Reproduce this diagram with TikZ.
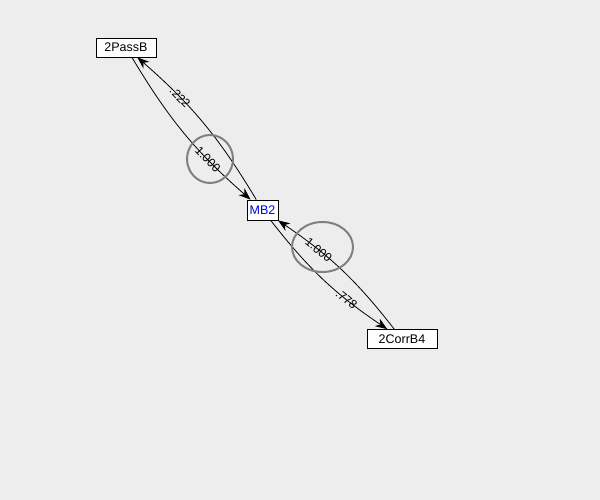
\documentclass[tikz,border=0pt]{standalone}
\usepackage{fontspec}
\setmainfont{Liberation Sans}
\usetikzlibrary{arrows.meta}
\definecolor{bggrey}{RGB}{237,237,237}
\definecolor{ringgrey}{RGB}{128,128,128}
\definecolor{mbblue}{RGB}{0,0,230}

\begin{document}
\begin{tikzpicture}[x=1pt,y=1pt,>={Stealth[length=12pt,width=9pt]},
  box/.style={draw,fill=white,line width=0.8pt,inner sep=0pt,minimum height=19pt,font=\fontsize{12.5}{14}\selectfont},
  wt/.style={sloped,pos=0.7,inner sep=0pt,font=\fontsize{12}{14}\selectfont},
  ring/.style={draw=ringgrey,line width=2pt}]
\fill[bggrey] (0,0) rectangle (600,500);
\useasboundingbox (0,0) rectangle (600,500);
% boxes
\node[box,minimum width=60pt] (pass) at (126,452.5) {2PassB};
\node[box,minimum width=31pt,minimum height=20pt,text=mbblue] (mb) at (262.5,290) {MB2};
\node[box,minimum width=70pt] (corr) at (402,161) {2CorrB4};
% flows
\draw[->,line width=0.8pt] (pass) to[bend right=9] node[wt]{1.000} (mb);
\draw[->,line width=0.8pt] (mb) to[bend right=9] node[wt]{.222} (pass);
\draw[->,line width=0.8pt] (mb) to[bend right=9] node[wt]{.778} (corr);
\draw[->,line width=0.8pt] (corr) to[bend right=9] node[wt]{1.000} (mb);
% rings
\draw[ring] (210,341) ellipse [x radius=23pt,y radius=24pt];
\draw[ring] (322.5,253) ellipse [x radius=30.5pt,y radius=25pt];
\end{tikzpicture}
\end{document}
